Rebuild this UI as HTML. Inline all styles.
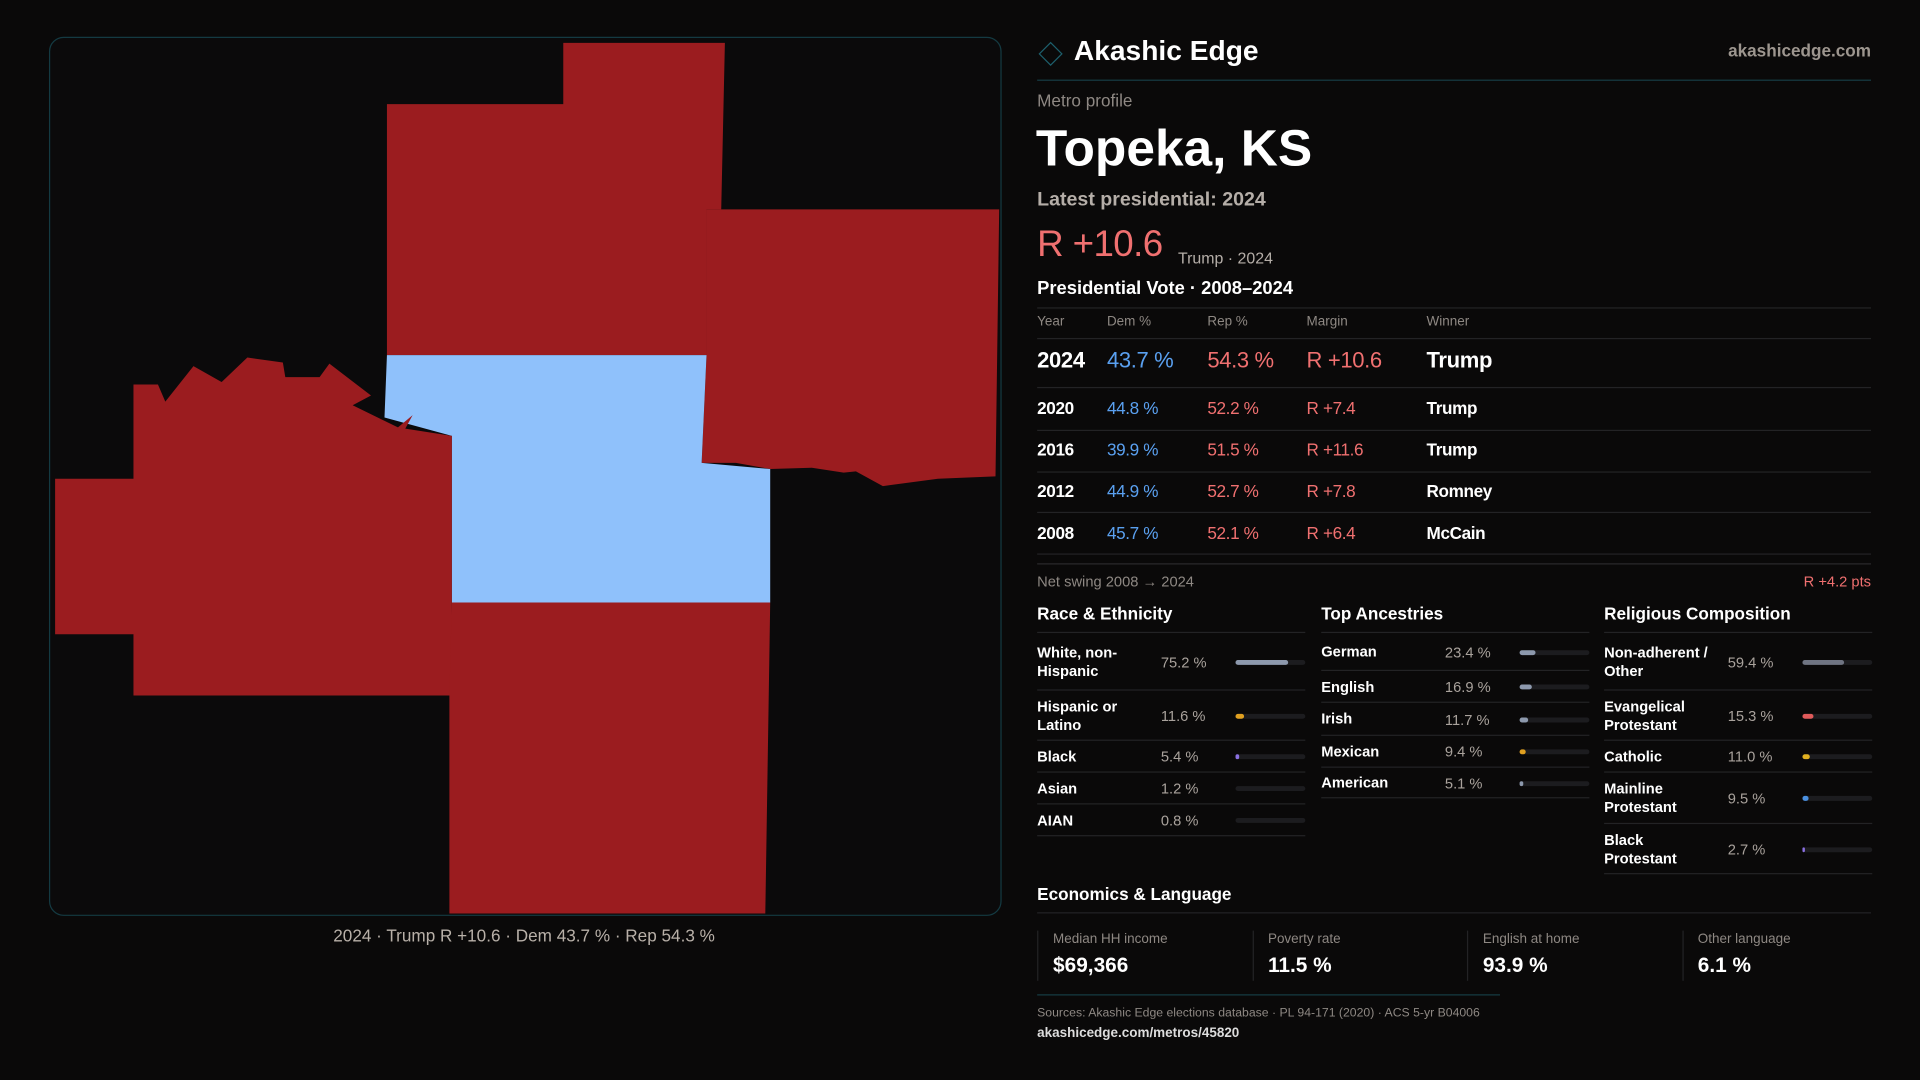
<!DOCTYPE html>
<html><head><meta charset="utf-8"><style>
html,body{margin:0;padding:0;background:#0a0909;width:1920px;height:1080px;overflow:hidden}
#w{position:absolute;left:0;top:0;width:1568px;height:882px;transform:scale(1.22449);transform-origin:0 0;font-family:"Liberation Sans",sans-serif;color:#fff}
.a{position:absolute;white-space:nowrap}
.ln{position:absolute;height:1px;background:#232325}
.g{color:#8e8883}
</style></head><body>
<div id="w">
<div class="a" style="left:40px;top:30px;width:776px;height:716px;border:1px solid #143a42;border-radius:12px;background:#0b0a0b;overflow:hidden">
<svg width="776" height="716" viewBox="40 30 776 716">
<polygon fill="#9b1c1f" points="459,34 591,34 588,170 576,170 576,289 315,289 315,84 459,84"/>
<polygon fill="#9b1c1f" points="576,170 815,170 812,388 765,390 720,396 698,384 688,385 662,381 628,382 600,377 572,377 576,289"/>
<polygon fill="#8fc1fb" points="315,289 576,289 572,377 628,382 628,491 368,491 368,355 313,340"/>
<polygon fill="#9b1c1f" points="108,313 128,313 134,327 157,298 180,311 201,291 230,295 232,307 260,307 268,296 302,322 287,330 324,348 336,338 330,349 368,355 368,567 108,567 108,517 44,517 44,390 108,390"/>
<polygon fill="#9b1c1f" points="368,491 628,491 624,745 366,745 366,567"/>
</svg></div>
<div class="a" style="left:40px;width:776px;text-align:center;top:756px;font-size:14px;color:#b8b0a8">2024 · Trump R +10.6 · Dem 43.7 % · Rep 54.3 %</div>

<div class="a" style="left:851px;top:37px;width:12px;height:12px;border:1.5px solid #1d5f6c;transform:rotate(45deg)"></div>
<div class="a" style="left:877px;top:28px;font-size:23px;font-weight:bold">Akashic Edge</div>
<div class="a" style="right:40px;top:33px;font-size:14px;font-weight:bold;color:#9d968f">akashicedge.com</div>
<div class="ln" style="left:847px;width:681px;top:65px;background:#163c44"></div>
<div class="a g" style="left:847px;top:74px;font-size:14px">Metro profile</div>
<div class="a" style="left:846px;top:97px;font-size:42px;font-weight:bold">Topeka, KS</div>
<div class="a" style="left:847px;top:155px;font-size:16px;color:#b5aea8;font-weight:bold">Latest presidential: 2024</div>
<div class="a" style="left:847px;top:183px;font-size:30px;letter-spacing:-0.5px;color:#f07070">R +10.6</div>
<div class="a" style="left:962px;top:203px;font-size:13px;color:#b5aea8">Trump · 2024</div>
<div class="a" style="left:847px;top:227px;font-size:15px;font-weight:bold">Presidential Vote · 2008–2024</div>
<div id="tbl"></div>
<div class="ln" style="left:847px;width:681px;top:460px;background:#2a2a2c"></div>
<div class="a g" style="left:847px;top:468px;font-size:12px">Net swing 2008 → 2024</div>
<div class="a" style="right:40px;top:468px;font-size:12px;color:#f07070">R +4.2 pts</div>
<div id="demo"></div>
<div class="a" style="left:847px;top:722px;font-size:14px;font-weight:bold">Economics &amp; Language</div>
<div class="ln" style="left:847px;width:681px;top:745px"></div>
<div id="econ"></div>
<div class="ln" style="left:847px;width:378px;top:812px;background:#163c44"></div>
<div class="a g" style="left:847px;top:822px;font-size:10px">Sources: Akashic Edge elections database · PL 94-171 (2020) · ACS 5-yr B04006</div>
<div class="a" style="left:847px;top:838px;font-size:11px;font-weight:bold;color:#ddd">akashicedge.com/metros/45820</div>
</div>
<script>
const years=["2024","2020","2016","2012","2008"];
const demPct=[43.7,44.8,39.9,44.9,45.7];
const repPct=[54.3,52.2,51.5,52.7,52.1];
const winners=["Trump","Trump","Trump","Romney","McCain"];
const raceLabels=["White, non-<br>Hispanic","Hispanic or<br>Latino","Black","Asian","AIAN"];
const raceValues=[75.2,11.6,5.4,1.2,0.8];
const raceColors=["#8d99ad","#e0a020","#8a70e0","#6f7482","#6f7482"];
const ancLabels=["German","English","Irish","Mexican","American"];
const ancValues=[23.4,16.9,11.7,9.4,5.1];
const ancColors=["#8d99ad","#8d99ad","#8d99ad","#e0a020","#8d99ad"];
const relLabels=["Non-adherent /<br>Other","Evangelical<br>Protestant","Catholic","Mainline<br>Protestant","Black<br>Protestant"];
const relValues=[59.4,15.3,11.0,9.5,2.7];
const relColors=["#6f7482","#e05a5a","#e0b020","#4a90e0","#8a70e0"];
const econLabels=["Median HH income","Poverty rate","English at home","Other language"];
const econValues=["$69,366","11.5 %","93.9 %","6.1 %"];

function div(parent,css,html){const d=document.createElement('div');d.className='a';d.style.cssText=css;if(html!==undefined)d.innerHTML=html;parent.appendChild(d);return d;}
function line(parent,x,y,w){const d=document.createElement('div');d.className='ln';d.style.cssText=`left:${x}px;top:${y}px;width:${w}px`;parent.appendChild(d);return d;}

const tbl=document.getElementById('tbl');
line(tbl,847,251,681);
const cols=[847,904,986,1067,1165];
["Year","Dem %","Rep %","Margin","Winner"].forEach((h,i)=>{
 const e=div(tbl,`left:${cols[i]}px;top:257px;font-size:11px;color:#8e8883`,h);
 
 
});
line(tbl,847,276,681);
const rowY=[295,333,367,401,435], sepY=[316,351,385,418,452];
years.forEach((y,i)=>{
 const fs=i===0?18:14;
 const m=repPct[i]-demPct[i];
 const vals=[y,demPct[i].toFixed(1)+' %',repPct[i].toFixed(1)+' %',(m>=0?'R +':'D +')+Math.abs(m).toFixed(1),winners[i]];
 const colr=['#fff','#5aa0f0','#f07070','#f07070','#fff'];
 vals.forEach((v,j)=>{
  const e=div(tbl,`left:${cols[j]}px;top:${rowY[i]-fs*0.6}px;font-size:${fs}px;letter-spacing:-0.3px;font-weight:${j===0||j===4?'bold':'normal'};color:${colr[j]}`,v);
  
  
 });
 line(tbl,847,sepY[i],681);
});

const demo=document.getElementById('demo');
function group(x,title,labels,values,colors,seps,valX,barX){
 const h=div(demo,`left:${x}px;top:493px;font-size:14px;font-weight:bold`,title);
 
 
 line(demo,x,516,219);
 let prev=516;
 labels.forEach((l,i)=>{
  const cy=(prev+seps[i])/2+1;
  const two=l.indexOf('<br>')>=0;
  const lab=div(demo,`left:${x}px;top:${cy-(two?15:7.5)}px;font-size:12px;line-height:15px;font-weight:bold`,l);
  
  
  const v=div(demo,`left:${x+valX}px;top:${cy-7}px;font-size:12px;color:#a9a29c`,values[i].toFixed(1)+' %');
  
  
  const tr=div(demo,`left:${x+barX}px;top:${cy-2}px;width:57px;height:4px;border-radius:2px;background:#1c1c1f`);
  
  
  const w=values[i]<2?0:Math.max(values[i]/100*57,2);
  const b=div(tr,`left:0;top:0;height:4px;border-radius:2px;width:${w}px;background:${colors[i]}`);
  
  
  line(demo,x,seps[i],219);
  prev=seps[i];
 });
}
group(847,"Race &amp; Ethnicity",raceLabels,raceValues,raceColors,[563,604,630,656,682],101,162);
group(1079,"Top Ancestries",ancLabels,ancValues,ancColors,[547,573,600,626,651],101,162);
group(1310,"Religious Composition",relLabels,relValues,relColors,[563,604,630,672,713],101,162);

const econ=document.getElementById('econ');
econLabels.forEach((l,i)=>{
 const x=847+i*175.5;
 const c=div(econ,`left:${x}px;top:760px;width:170px;height:41px;border-left:1px solid #232325`);
 
 
 const a=div(c,`left:12px;top:1px;font-size:11px;color:#8e8883`,l);
 
 
 const b=div(c,`left:12px;top:19px;font-size:17px;font-weight:bold`,econValues[i]);
 
 
});
</script>
</body></html>
